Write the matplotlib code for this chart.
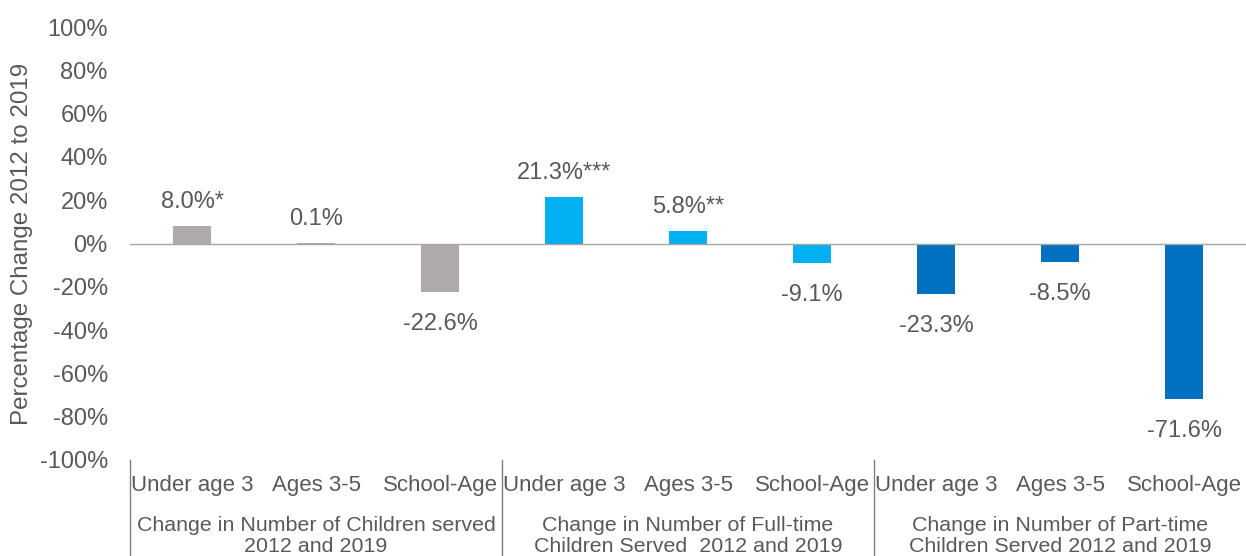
import matplotlib.pyplot as plt
import numpy as np

plt.rcParams['font.family'] = ['Liberation Sans', 'DejaVu Sans']

ages = ["Under age 3", "Ages 3-5", "School-Age"]
groups = ["Change in Number of Children served\n2012 and 2019",
          "Change in Number of Full-time\nChildren Served  2012 and 2019",
          "Change in Number of Part-time\nChildren Served 2012 and 2019"]
values = [8.0, 0.1, -22.6, 21.3, 5.8, -9.1, -23.3, -8.5, -71.6]
labels = ["8.0%*", "0.1%", "-22.6%", "21.3%***", "5.8%**", "-9.1%",
          "-23.3%", "-8.5%", "-71.6%"]
colors = ["#AEAAAA"] * 3 + ["#00B0F0"] * 3 + ["#0070C0"] * 3
txt = "#595959"

fig = plt.figure(figsize=(12.46, 5.56), dpi=100)
ax = fig.add_axes([130 / 1246, 1 - 460 / 556, 1 - 130 / 1246, 433 / 556])

x = np.arange(len(values))
ax.bar(x, values, width=0.3, color=colors, zorder=2)
ax.set_xlim(-0.5, len(values) - 0.5)
ax.set_ylim(-100, 100)
ax.axhline(0, color="#A6A6A6", lw=1, zorder=3)

for xi, v, lab in zip(x, values, labels):
    if v >= 0:
        ax.annotate(lab, (xi, v), xytext=(0, 13), textcoords="offset pixels",
                    ha="center", va="bottom", fontsize=17, color=txt)
    else:
        ax.annotate(lab, (xi, v), xytext=(0, -21), textcoords="offset pixels",
                    ha="center", va="top", fontsize=17, color=txt)

yt = np.arange(-100, 101, 20)
ax.set_yticks(yt)
ax.set_yticklabels([f"{t}%" for t in yt], fontsize=17, color=txt)
ax.tick_params(axis="y", length=0, pad=16)
ax.set_xticks([])
for s in ax.spines.values():
    s.set_visible(False)

fig.text(22 / 1246, 1 - 243.5 / 556, "Percentage Change 2012 to 2019",
         rotation=90, ha="center", va="center", fontsize=17.4, color=txt)

# category labels and group labels below the axis
for i in range(len(values)):
    ax.text(i, -0.058, ages[i % 3], transform=ax.get_xaxis_transform(),
            ha="center", va="center", fontsize=16, color=txt)
for g in range(3):
    ax.text(3 * g + 1, -0.175, groups[g], transform=ax.get_xaxis_transform(),
            ha="center", va="center", fontsize=15.4, color=txt, linespacing=1.1)
for b in [-0.5, 2.5, 5.5]:
    ax.plot([b, b], [0, -0.25], transform=ax.get_xaxis_transform(),
            color="#7F7F7F", lw=1, clip_on=False)

fig.savefig("out.png", dpi=100)
